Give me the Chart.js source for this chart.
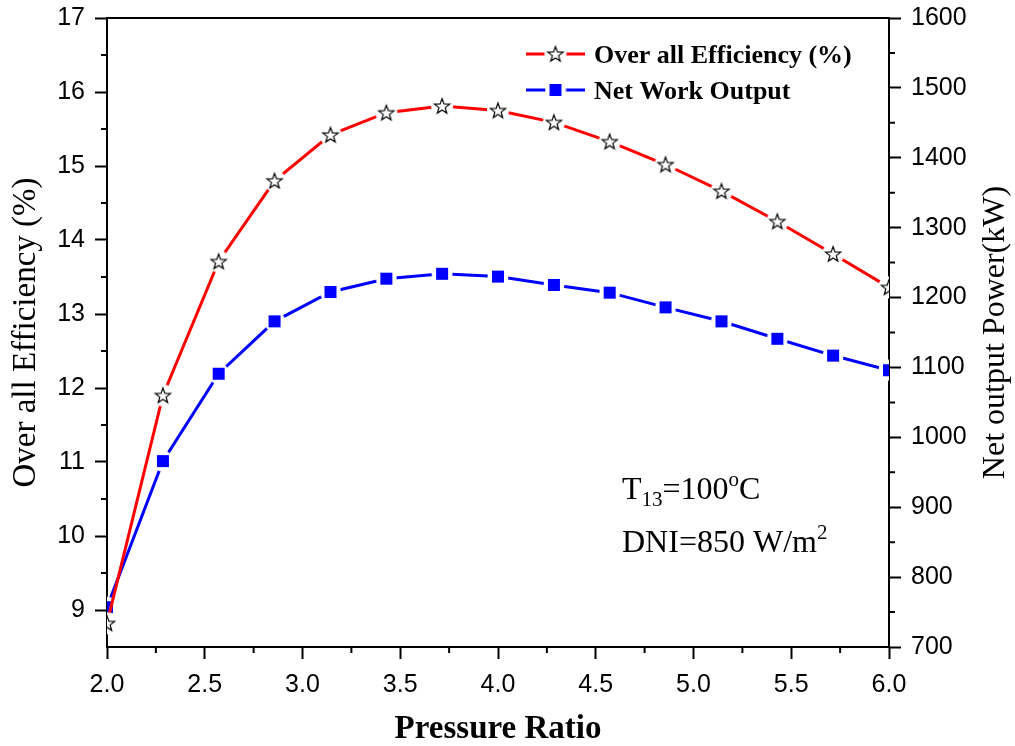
<!DOCTYPE html>
<html>
<head>
<meta charset="utf-8">
<script src="https://cdn.jsdelivr.net/npm/chart.js@4"></script>
<style>
html,body{margin:0;padding:0;background:#fff;}
canvas{display:block;}
</style>
</head>
<body>
<canvas id="c" width="1015" height="746"></canvas>
<script>
// data
const pressureRatio=[2.0,2.286,2.571,2.857,3.143,3.429,3.714,4.0,4.286,4.571,4.857,5.143,5.429,5.714,6.0];
const efficiency=[8.82,11.90,13.71,14.80,15.42,15.72,15.81,15.75,15.59,15.33,15.02,14.66,14.25,13.81,13.36];
const netWork=[757,966,1091,1166,1208,1227,1234,1230,1218,1207,1186,1166,1141,1117,1096];
const xTicks=[2.0,2.5,3.0,3.5,4.0,4.5,5.0,5.5,6.0];
const effTicks=[9,10,11,12,13,14,15,16,17];
const powTicks=[700,800,900,1000,1100,1200,1300,1400,1500,1600];

const sans='"Liberation Sans", Arial, sans-serif';
const serif='"Liberation Serif", "Times New Roman", serif';

// markers with a white halo so the line stops short of them
const starPath=(g,cx,cy,ro,ri)=>{
  g.beginPath();
  for(let i=0;i<10;i++){
    const r=i%2?ri:ro, a=-Math.PI/2+i*Math.PI/5;
    g.lineTo(cx+r*Math.cos(a),cy+r*Math.sin(a));
  }
  g.closePath();
};
const starImg=(()=>{
  const c=document.createElement('canvas'); c.width=c.height=26;
  const g=c.getContext('2d');
  g.fillStyle='#fff'; g.beginPath(); g.arc(13,13,11,0,2*Math.PI); g.fill();
  starPath(g,13,13.6,8,3.3);
  g.fillStyle='#fff'; g.fill(); g.strokeStyle='#000'; g.lineWidth=1.2; g.stroke();
  return c;
})();
const squareImg=(()=>{
  const c=document.createElement('canvas'); c.width=c.height=22;
  const g=c.getContext('2d');
  g.fillStyle='#fff'; g.beginPath(); g.arc(11,11,10.5,0,2*Math.PI); g.fill();
  g.fillStyle='#0000ff'; g.fillRect(5,5,12,12);
  return c;
})();

const axis=(pos,ticks,fmt,fit)=>({
  type:'linear',position:pos,z:1,
  grid:{display:true,drawOnChartArea:false,drawTicks:true,tickLength:12,tickWidth:2,tickColor:'#000'},
  border:{display:true,color:'#000',width:2},
  ticks:{color:'#000',font:{family:sans,size:25},padding:10,autoSkip:false,maxRotation:0,minRotation:0,callback:fmt},
  afterBuildTicks:s=>{s.ticks=ticks.map(v=>({value:v}));},
  afterFit:fit
});

const xScale=axis('bottom',xTicks,v=>v.toFixed(1),s=>{s.height=99;});
xScale.min=2; xScale.max=6;
xScale.ticks.padding=11;
xScale.title={display:true,text:'Pressure Ratio',color:'#000',font:{family:serif,size:33,weight:'bold',lineHeight:1},padding:{top:0,bottom:0}};

// fixed widths; label overhang above the plot should not push it down
const yFit=w=>s=>{s.width=w; s.paddingTop=0; s.paddingBottom=0;};

const yScale=axis('left',effTicks,v=>String(v),yFit(107));
yScale.min=8.5; yScale.max=17;
yScale.title={display:true,text:'Over all Efficiency (%)',color:'#000',font:{family:serif,size:33,lineHeight:1},padding:{top:10,bottom:0}};

const y1Scale=axis('right',powTicks,v=>String(v),yFit(126));
y1Scale.min=700; y1Scale.max=1600;

// minor ticks, top frame line, right title, legend and note
const deco={
  id:'deco',
  afterDraw(chart){
    const g=chart.ctx, a=chart.chartArea, sc=chart.scales;
    g.save();
    g.strokeStyle='#000'; g.lineWidth=2;
    g.beginPath(); g.moveTo(a.left-1,a.top); g.lineTo(a.right+1,a.top); g.stroke();
    g.beginPath();
    for(let i=0;i<xTicks.length-1;i++){const p=sc.x.getPixelForValue((xTicks[i]+xTicks[i+1])/2); g.moveTo(p,a.bottom); g.lineTo(p,a.bottom+6);}
    for(let i=0;i<effTicks.length-1;i++){const p=sc.y.getPixelForValue((effTicks[i]+effTicks[i+1])/2); g.moveTo(a.left,p); g.lineTo(a.left-6,p);}
    for(let i=0;i<powTicks.length-1;i++){const p=sc.y1.getPixelForValue((powTicks[i]+powTicks[i+1])/2); g.moveTo(a.right,p); g.lineTo(a.right+6,p);}
    g.stroke();

    // right axis title, reading bottom to top
    g.fillStyle='#000'; g.font='32px '+serif; g.textAlign='center'; g.textBaseline='middle';
    g.translate(996,(a.top+a.bottom)/2); g.rotate(-Math.PI/2);
    g.fillText('Net output Power(kW)',0,0);
    g.setTransform(1,0,0,1,0,0);

    // legend
    const rows=[{ds:chart.data.datasets[0],img:starImg,y:54},{ds:chart.data.datasets[1],img:squareImg,y:90}];
    rows.forEach(r=>{
      g.strokeStyle=r.ds.borderColor; g.lineWidth=3;
      g.beginPath(); g.moveTo(526,r.y); g.lineTo(585,r.y); g.stroke();
      g.drawImage(r.img,555.5-r.img.width/2,r.y-r.img.height/2);
      g.fillStyle='#000'; g.font='bold 26px '+serif; g.textAlign='left'; g.textBaseline='alphabetic';
      g.fillText(r.ds.label,594,r.y+9);
    });

    // note with sub/superscripts
    const runs=(parts,x,y)=>{
      parts.forEach(([t,sz,dy])=>{g.font=sz+'px '+serif; g.fillText(t,x,y+dy); x+=g.measureText(t).width;});
    };
    g.textAlign='left'; g.textBaseline='alphabetic'; g.fillStyle='#000';
    runs([['T',32,0],['13',21,7],['=100',32,0],['o',21,-13],['C',32,0]],622,499);
    runs([['DNI=850 W/m',32,0],['2',21,-13]],622,552);
    g.restore();
  }
};

new Chart(document.getElementById('c').getContext('2d'),{
  type:'line',
  data:{datasets:[
    {label:'Over all Efficiency (%)',data:pressureRatio.map((x,i)=>({x,y:efficiency[i]})),yAxisID:'y',
     borderColor:'#ff0000',borderWidth:3,pointStyle:starImg,pointRadius:8,tension:0,clip:0},
    {label:'Net Work Output',data:pressureRatio.map((x,i)=>({x,y:netWork[i]})),yAxisID:'y1',
     borderColor:'#0000ff',borderWidth:3,pointStyle:squareImg,pointRadius:8,tension:0,clip:0}
  ]},
  options:{
    responsive:false,animation:false,
    layout:{padding:{top:18,left:0,right:0,bottom:0}},
    plugins:{legend:{display:false},tooltip:{enabled:false}},
    scales:{x:xScale,y:yScale,y1:y1Scale}
  },
  plugins:[deco]
});
</script>
</body>
</html>
